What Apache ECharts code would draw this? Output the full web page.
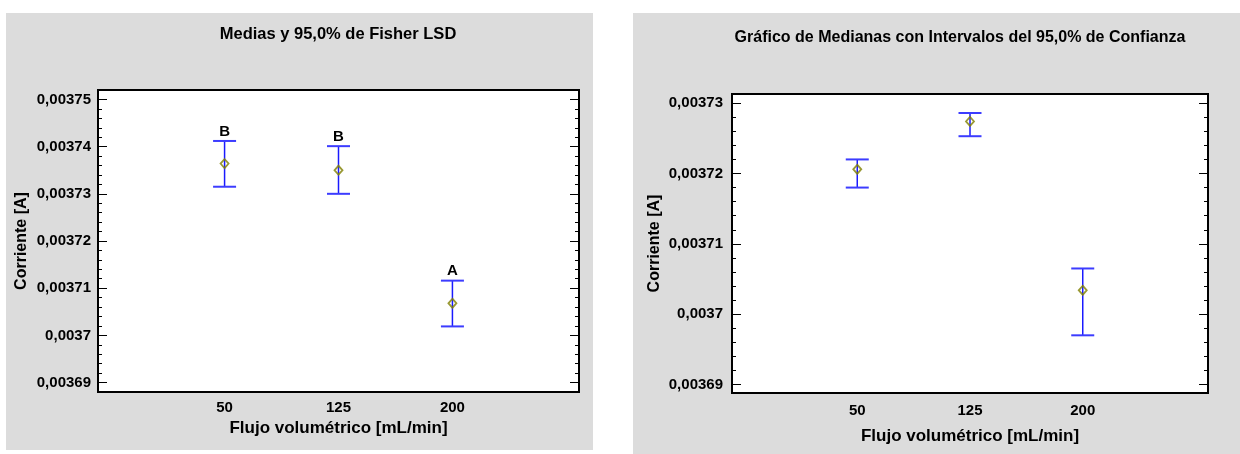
<!DOCTYPE html>
<html><head><meta charset="utf-8">
<script src="https://cdn.jsdelivr.net/npm/echarts@6/dist/echarts.min.js"></script>
<style>
body{margin:0;background:#fff;width:1240px;height:454px;position:relative;overflow:hidden}
#c1{position:absolute;left:6px;top:13px;width:587px;height:437px;background:#dcdcdc}
#c2{position:absolute;left:633px;top:13px;width:607px;height:441px;background:#dcdcdc}
</style></head><body>
<div id="c1"></div><div id="c2"></div>
<script>
// ---- data ----
var flowRates = [50, 125, 200];
var flowLabels = ['50', '125', '200'];

// Chart 1: Medias y 95,0% de Fisher LSD
var lsdMeans = [0.0037364, 0.0037350, 0.0037068];
var lsdLower = [0.0037315, 0.0037300, 0.0037019];
var lsdUpper = [0.0037412, 0.0037401, 0.0037116];
var lsdGroups = ['B', 'B', 'A'];
var lsdYTicks = [0.00369, 0.0037, 0.00371, 0.00372, 0.00373, 0.00374, 0.00375];
var lsdYLabels = ['0,00369', '0,0037', '0,00371', '0,00372', '0,00373', '0,00374', '0,00375'];

// Chart 2: Medianas con intervalos del 95,0%
var medValues = [0.0037206, 0.0037274, 0.0037034];
var medLower = [0.0037180, 0.0037253, 0.0036970];
var medUpper = [0.0037220, 0.0037286, 0.0037065];
var medYTicks = [0.00369, 0.0037, 0.00371, 0.00372, 0.00373];
var medYLabels = ['0,00369', '0,0037', '0,00371', '0,00372', '0,00373'];

var FONT = '"Liberation Sans", Arial, Helvetica, sans-serif';

function minorTicks(majors, parts, lo, hi) {
  var step = (majors[1] - majors[0]) / parts, out = [];
  var start = majors[0] - Math.ceil((majors[0] - lo) / step) * step;
  for (var v = start; v <= hi + step * 1e-6; v += step) {
    var r = Math.round(v * 1e10) / 1e10;
    if (r >= lo - 1e-12 && r <= hi + 1e-12) out.push(r);
  }
  return out;
}
function labelFor(values, labels) {
  return function (v) {
    var best = 0;
    for (var i = 1; i < values.length; i++) if (Math.abs(values[i] - v) < Math.abs(values[best] - v)) best = i;
    return labels[best];
  };
}

function buildOption(c) {
  var minor = minorTicks(c.yTicks, 5, c.yMin, c.yMax);
  function tickAx(pos, ticks, len) {
    return {
      type: 'value', min: c.yMin, max: c.yMax, position: pos, offset: 0,
      splitLine: { show: false }, axisLine: { show: false },
      axisTick: { show: true, inside: true, length: len, customValues: ticks, lineStyle: { color: '#000', width: 1 } },
      axisLabel: { show: false }
    };
  }
  var labelAx = {
    type: 'value', min: c.yMin, max: c.yMax, position: 'left', offset: 0,
    splitLine: { show: false }, axisLine: { show: false }, axisTick: { show: false },
    axisLabel: { show: true, customValues: c.yTicks, formatter: labelFor(c.yTicks, c.yLabels), margin: c.yLabelMargin,
      fontSize: c.tickFont, fontWeight: 'bold', color: '#000', fontFamily: FONT },
    name: 'Corriente [A]', nameLocation: 'middle', nameGap: c.yNameGap, nameMoveOverlap: false,
    nameTextStyle: { fontSize: 16, fontWeight: 'bold', color: '#000', fontFamily: FONT }
  };
  var barData = flowRates.map(function (x, i) { return [x, c.lower[i], c.upper[i], i]; });
  var ptData = flowRates.map(function (x, i) { return [x, c.center[i]]; });
  return {
    animation: false,
    backgroundColor: 'transparent',
    graphic: [{
      type: 'text', x: c.titleX, y: c.titleY, z: 10,
      style: { text: c.title, font: 'bold ' + c.titleFont + 'px ' + FONT, fill: '#000', align: 'center', verticalAlign: 'middle' }
    }],
    grid: { left: c.grid[0], top: c.grid[1], width: c.grid[2], height: c.grid[3], show: true,
      containLabel: false, outerBoundsMode: 'none',
      backgroundColor: '#fff', borderColor: '#000', borderWidth: 2 },
    xAxis: {
      type: 'value', min: c.xMin, max: c.xMax,
      splitLine: { show: false }, axisLine: { show: false }, axisTick: { show: false },
      axisLabel: { customValues: flowRates, formatter: labelFor(flowRates, flowLabels), margin: c.xLabelMargin,
        fontSize: c.tickFont, fontWeight: 'bold', color: '#000', fontFamily: FONT },
      name: 'Flujo volumétrico [mL/min]', nameLocation: 'middle', nameGap: c.xNameGap, nameMoveOverlap: false,
      nameTextStyle: { fontSize: 17, fontWeight: 'bold', color: '#000', fontFamily: FONT }
    },
    yAxis: [
      labelAx,
      tickAx('left', c.yTicks, 9),
      tickAx('left', minor, 4),
      tickAx('right', c.yTicks, 9),
      tickAx('right', minor, 4)
    ],
    series: [
      {
        type: 'custom', yAxisIndex: 0, data: barData, encode: { x: 0, y: [1, 2] }, z: 2,
        renderItem: function (params, api) {
          var x = api.value(0), lo = api.value(1), hi = api.value(2), idx = api.value(3);
          var pLo = api.coord([x, lo]), pHi = api.coord([x, hi]);
          var hw = 11.5;
          var kids = [
            { type: 'line', shape: { x1: pHi[0], y1: pHi[1], x2: pLo[0], y2: pLo[1] }, style: { stroke: '#1a1aff', lineWidth: 1.5 } },
            { type: 'line', shape: { x1: pHi[0] - hw, y1: pHi[1], x2: pHi[0] + hw, y2: pHi[1] }, style: { stroke: '#3c3cff', lineWidth: 2 } },
            { type: 'line', shape: { x1: pLo[0] - hw, y1: pLo[1], x2: pLo[0] + hw, y2: pLo[1] }, style: { stroke: '#3c3cff', lineWidth: 2 } }
          ];
          if (c.groups) {
            kids.push({ type: 'text', x: pHi[0], y: pHi[1] - 2,
              style: { text: c.groups[idx], font: 'bold 15px ' + FONT, fill: '#000', align: 'center', verticalAlign: 'bottom' } });
          }
          return { type: 'group', children: kids };
        }
      },
      {
        type: 'scatter', yAxisIndex: 0, data: ptData, symbol: 'diamond', symbolSize: [8, 9], z: 3,
        itemStyle: { color: 'rgba(255,255,255,0)', borderColor: '#7f7f00', borderWidth: 1.8 }
      }
    ]
  };
}

var chart1 = echarts.init(document.getElementById('c1'), null, { renderer: 'canvas' });
chart1.setOption(buildOption({
  title: 'Medias y 95,0% de Fisher LSD', titleX: 332, titleY: 21, titleFont: 16.5,
  grid: [92, 77, 481, 302], tickFont: 15,
  xMin: -33.33, xMax: 283.33, yMin: 0.003688, yMax: 0.003752,
  yTicks: lsdYTicks, yLabels: lsdYLabels, yLabelMargin: 7, yNameGap: 68,
  xLabelMargin: 8, xNameGap: 28,
  center: lsdMeans, lower: lsdLower, upper: lsdUpper, groups: lsdGroups
}));

var chart2 = echarts.init(document.getElementById('c2'), null, { renderer: 'canvas' });
chart2.setOption(buildOption({
  title: 'Gráfico de Medianas con Intervalos del 95,0% de Confianza', titleX: 327, titleY: 25, titleFont: 16,
  grid: [99, 81, 476, 299], tickFont: 15,
  xMin: -33.33, xMax: 283.33, yMin: 0.0036888, yMax: 0.0037313,
  yTicks: medYTicks, yLabels: medYLabels, yLabelMargin: 9, yNameGap: 69,
  xLabelMargin: 10, xNameGap: 35,
  center: medValues, lower: medLower, upper: medUpper, groups: null
}));
</script>
</body></html>
